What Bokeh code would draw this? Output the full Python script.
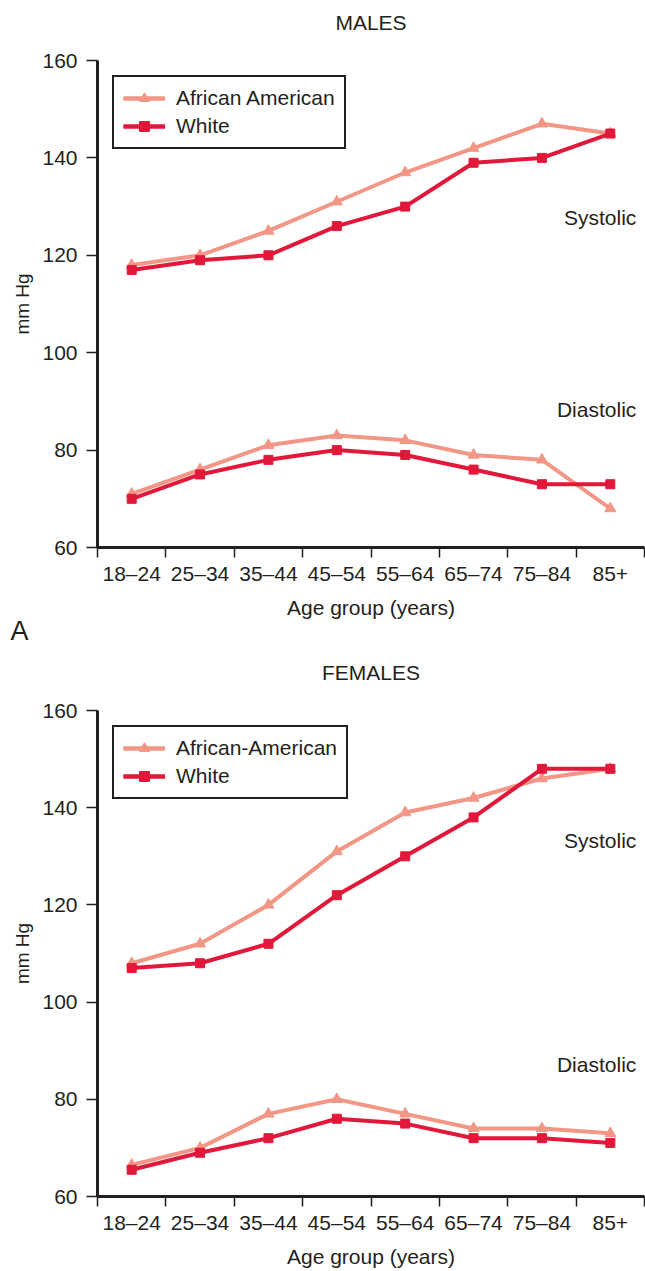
from bokeh.plotting import figure
from bokeh.models import Range1d, FixedTicker, Label, Title, LinearAxis
from bokeh.layouts import column
from bokeh.embed import file_html
from bokeh.resources import INLINE
import numpy as np

categories = ["18–24", "25–34", "35–44", "45–54", "55–64", "65–74", "75–84", "85+"]
y_ticks = [60, 80, 100, 120, 140, 160]

male_aa_systolic = [118, 120, 125, 131, 137, 142, 147, 145]
male_white_systolic = [117, 119, 120, 126, 130, 139, 140, 145]
male_aa_diastolic = [71, 76, 81, 83, 82, 79, 78, 68]
male_white_diastolic = [70, 75, 78, 80, 79, 76, 73, 73]

female_aa_systolic = [108, 112, 120, 131, 139, 142, 146, 148]
female_white_systolic = [107, 108, 112, 122, 130, 138, 148, 148]
female_aa_diastolic = [66.5, 70, 77, 80, 77, 74, 74, 73]
female_white_diastolic = [65.5, 69, 72, 76, 75, 72, 72, 71]

AA_COLOR = "#F29686"
WHITE_COLOR = "#E2183A"
INK = "#231f20"
FONT = "Liberation Sans"
FS = "21px"


def make_panel(title, aa_label, aa_sys, w_sys, aa_dia, w_dia, height, top, bottom,
               sys_y, dia_y, letter=None):
    n = len(categories)
    xs = np.arange(n) + 0.5
    p = figure(width=645, height=height, output_backend="svg", toolbar_location=None,
               x_range=Range1d(0, n), y_range=Range1d(60, 160),
               min_border_left=97, min_border_right=1, min_border_top=top,
               min_border_bottom=bottom)
    p.outline_line_color = None
    p.grid.visible = False
    p.background_fill_color = "white"
    p.border_fill_color = "white"

    for ys in (aa_sys, aa_dia):
        p.line(xs, ys, line_color=AA_COLOR, line_width=4, legend_label=aa_label)
        p.scatter(xs, ys, marker="triangle", size=11, color=AA_COLOR, legend_label=aa_label)
    for ys in (w_sys, w_dia):
        p.line(xs, ys, line_color=WHITE_COLOR, line_width=4, legend_label="White")
        p.scatter(xs, ys, marker="square", size=9, color=WHITE_COLOR, legend_label="White")

    xa = p.below[0]
    xa.ticker = FixedTicker(ticks=list(xs), minor_ticks=list(range(n + 1)))
    xa.major_label_overrides = {float(x): c for x, c in zip(xs, categories)}
    xa.major_tick_out = 0
    xa.major_tick_in = 0
    xa.minor_tick_out = 10
    xa.minor_tick_in = 0
    xa.minor_tick_line_color = INK
    xa.minor_tick_line_width = 1.5
    xa.axis_line_color = INK
    xa.axis_line_width = 3
    xa.major_label_text_font = FONT
    xa.major_label_text_font_size = FS
    xa.major_label_text_color = INK
    xa.major_label_standoff = 4
    xa.axis_label = "Age group (years)"
    xa.axis_label_text_font = FONT
    xa.axis_label_text_font_size = FS
    xa.axis_label_text_font_style = "normal"
    xa.axis_label_text_color = INK
    xa.axis_label_standoff = 8

    ya = p.left[0]
    ya.ticker = FixedTicker(ticks=y_ticks, minor_ticks=[])
    ya.major_tick_out = 11
    ya.major_tick_in = 0
    ya.major_tick_line_color = INK
    ya.major_tick_line_width = 1.5
    ya.axis_line_color = INK
    ya.axis_line_width = 3
    ya.major_label_text_font = FONT
    ya.major_label_text_font_size = FS
    ya.major_label_text_color = INK
    ya.major_label_standoff = 9
    ya.axis_label = "mm Hg"
    ya.axis_label_text_font = FONT
    ya.axis_label_text_font_size = "19px"
    ya.axis_label_text_font_style = "normal"
    ya.axis_label_text_color = INK
    ya.axis_label_standoff = 6

    # panel title drawn as the label of a bare axis above the frame
    ta = LinearAxis(ticker=FixedTicker(ticks=[], minor_ticks=[]), axis_label=title,
                    axis_line_color=None, major_tick_out=0, major_tick_in=0,
                    minor_tick_out=0, minor_tick_in=0, major_label_standoff=0,
                    axis_label_standoff=27, axis_label_text_font=FONT,
                    axis_label_text_font_size=FS, axis_label_text_font_style="normal",
                    axis_label_text_color=INK)
    p.add_layout(ta, "above")

    lg = p.legend[0]
    lg.location = "top_left"
    lg.margin = 15
    lg.border_line_color = INK
    lg.border_line_alpha = 1
    lg.border_line_width = 2.5
    lg.label_text_font = FONT
    lg.label_text_font_size = FS
    lg.label_text_color = INK
    lg.glyph_width = 42
    lg.glyph_height = 24
    lg.label_height = 24
    lg.label_standoff = 11
    lg.spacing = 4
    lg.padding = 9
    lg.background_fill_alpha = 1

    for txt, yv in (("Systolic", sys_y), ("Diastolic", dia_y)):
        p.add_layout(Label(x=7.88, y=yv, text=txt, text_align="right",
                           text_baseline="middle", text_font=FONT,
                           text_font_size=FS, text_color=INK))
    if letter:
        t = Title(text=letter, align="left", offset=-87, vertical_align="top",
                  standoff=-12, text_font=FONT, text_font_size="27px",
                  text_font_style="normal", text_color=INK)
        p.add_layout(t, "below")
    return p


top = make_panel("MALES", "African American", male_aa_systolic, male_white_systolic,
                 male_aa_diastolic, male_white_diastolic, 650, 60, 103,
                 127.8, 88.4, "A")
bot = make_panel("FEMALES", "African-American", female_aa_systolic, female_white_systolic,
                 female_aa_diastolic, female_white_diastolic, 621, 60, 75,
                 133.3, 87.1)

layout = column(top, bot, spacing=0)
open("out.html", "w").write(file_html(layout, INLINE))
